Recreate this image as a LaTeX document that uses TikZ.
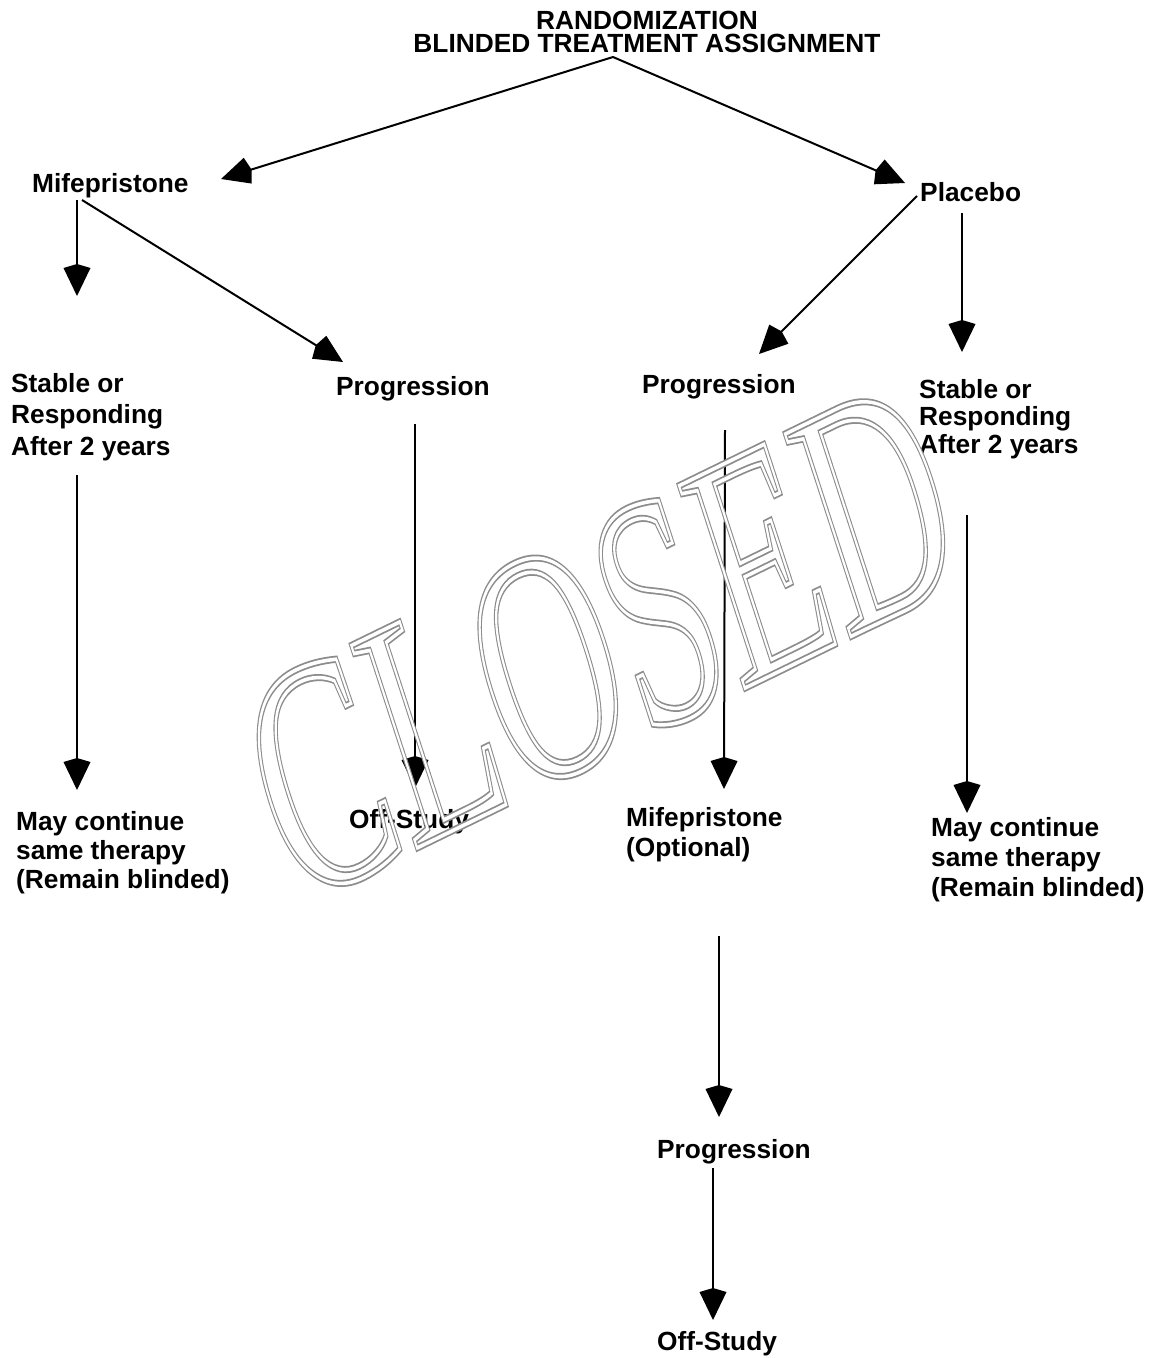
\documentclass[tikz,border=0pt]{standalone}
\usepackage{fontspec}
\setmainfont{Liberation Sans}
\newfontfamily\wmfont{Liberation Serif}
\usetikzlibrary{arrows.meta}
\newcommand\wmstroke[2]{\special{pdf:literal direct #1 w 1 Tr}#2\special{pdf:literal direct 0 Tr}}
\begin{document}
\begin{tikzpicture}[x=1pt,y=-1pt,
  lbl/.style={inner sep=0pt, anchor=base west, align=left, font=\fontsize{26.3}{29}\selectfont\bfseries},
  conn/.style={line width=2pt, -{Kite[length=32pt,width=27pt,inset=4pt]}},
  wm/.style={inner sep=0pt, anchor=base west, cm={1.735,0.846,-1.004,3.091,(296,907)}}]
\useasboundingbox (0,0) rectangle (1158,1358);
% title (base anchor = baseline of the last line)
\node[inner sep=0pt, anchor=base, align=center, font=\fontsize{26.3}{23}\selectfont\bfseries] (title) at (647,52) {RANDOMIZATION\\BLINDED TREATMENT ASSIGNMENT};
% labels
\node[lbl] (mife) at (32,192) {Mifepristone};
\node[lbl] (plac) at (920,201) {Placebo};
\node[lbl, font=\fontsize{26.3}{31.7}\selectfont\bfseries] (stabL) at (11,455.4) {Stable or\\Responding\\After 2 years};
\node[lbl] (progL) at (336,395) {Progression};
\node[lbl] (progM) at (642,393) {Progression};
\node[lbl, font=\fontsize{26.3}{27.5}\selectfont\bfseries] (stabR) at (919,453) {Stable or\\Responding\\After 2 years};
\node[lbl] (mayL) at (16,888) {May continue\\same therapy\\(Remain blinded)};
\node[lbl] (offL) at (349,828) {Off-Study};
\node[lbl, font=\fontsize{26.3}{30}\selectfont\bfseries] (mifeO) at (626,856) {Mifepristone\\(Optional)};
\node[lbl, font=\fontsize{26.3}{30}\selectfont\bfseries] (mayR) at (931,896) {May continue\\same therapy\\(Remain blinded)};
\node[lbl] (progB) at (657,1158) {Progression};
\node[lbl] (offB) at (657,1350) {Off-Study};
% connector end points
\coordinate (t0) at (613,57);
\coordinate (a1) at (221,179);
\coordinate (a2) at (905,183);
\coordinate (m0) at (77,200);
\coordinate (m1) at (77,296);
\coordinate (m2) at (82,200);
\coordinate (m3) at (343,362);
\coordinate (p0) at (917,196);
\coordinate (p1) at (759,354);
\coordinate (p2) at (962,213);
\coordinate (p3) at (962,352);
\coordinate (s0) at (77,475);
\coordinate (s1) at (77,790);
\coordinate (g0) at (415,424);
\coordinate (g1) at (415,788);
\coordinate (h0) at (725,430);
\coordinate (h1) at (724,789);
\coordinate (r0) at (967,515);
\coordinate (r1) at (967,813);
\coordinate (o0) at (719,936);
\coordinate (o1) at (719,1117);
\coordinate (q0) at (713,1168);
\coordinate (q1) at (713,1320);
% connectors
\draw[conn] (t0) -- (a1);
\draw[conn] (t0) -- (a2);
\draw[conn] (m0) -- (m1);
\draw[conn] (m2) -- (m3);
\draw[conn] (p0) -- (p1);
\draw[conn] (p2) -- (p3);
\draw[conn] (s0) -- (s1);
\draw[conn] (g0) -- (g1);
\draw[conn] (h0) -- (h1);
\draw[conn] (r0) -- (r1);
\draw[conn] (o0) -- (o1);
\draw[conn] (q0) -- (q1);
% watermark: outlined serif text, double grey line
\node[wm] (wmA) at (0,0)
  {\fontsize{100}{100}\selectfont\wmfont\color{black!45}\wmstroke{2.2}{CLOSED}};
\node[wm] (wmB) at (0,0)
  {\fontsize{100}{100}\selectfont\wmfont\color{white}\wmstroke{1.1}{CLOSED}};
\end{tikzpicture}
\end{document}
